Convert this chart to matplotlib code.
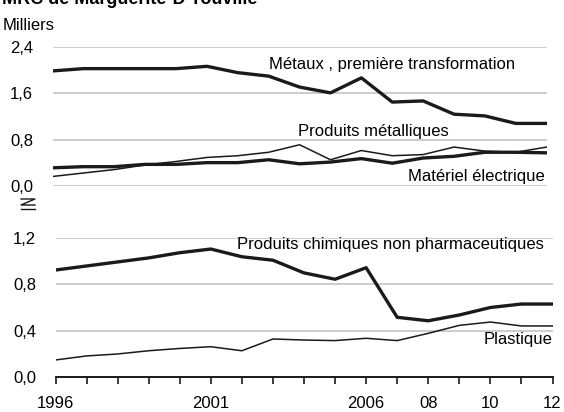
import matplotlib
matplotlib.use("Agg")
import matplotlib.pyplot as plt
from matplotlib.lines import Line2D

plt.rcParams["font.family"] = ["Liberation Sans Narrow", "Liberation Sans", "DejaVu Sans"]

years = list(range(1996, 2013))

# milliers d'emplois
metaux = [1.99, 2.03, 2.03, 2.03, 2.03, 2.07, 1.96, 1.90, 1.71, 1.61, 1.87,
          1.45, 1.47, 1.24, 1.21, 1.08, 1.08]
prod_metalliques = [0.16, 0.22, 0.28, 0.36, 0.42, 0.49, 0.52, 0.58, 0.71, 0.45,
                    0.61, 0.52, 0.54, 0.67, 0.60, 0.58, 0.67]
materiel_elec = [0.31, 0.33, 0.33, 0.37, 0.37, 0.40, 0.40, 0.45, 0.38, 0.41,
                 0.47, 0.39, 0.48, 0.51, 0.58, 0.58, 0.57]
chimiques = [0.925, 0.96, 0.995, 1.03, 1.075, 1.107, 1.04, 1.01, 0.90, 0.845,
             0.945, 0.515, 0.485, 0.535, 0.60, 0.63, 0.63]
plastique = [0.145, 0.18, 0.197, 0.225, 0.245, 0.26, 0.225, 0.327, 0.318, 0.313,
             0.333, 0.313, 0.376, 0.445, 0.474, 0.44, 0.44]

top_ticks = [0.0, 0.8, 1.6, 2.4]
bot_ticks = [0.0, 0.4, 0.8, 1.2]
xtick_labels = {1996: "1996", 2001: "2001", 2006: "2006", 2008: "08", 2010: "10", 2012: "12"}

W, H = 564, 412
fig = plt.figure(figsize=(W / 100, H / 100), dpi=100)


def px_box(x0, x1, ytop, ybot):
    return [x0 / W, 1 - ybot / H, (x1 - x0) / W, (ybot - ytop) / H]


ax1 = fig.add_axes(px_box(52.5, 546.7, 47, 186))
ax2 = fig.add_axes(px_box(55.5, 552.5, 238.3, 376.7))

grid_col = "#c8c8c8"
line_col = "#1a1a1a"
thick, thin = 2.4, 1.1

for ax, ticks in ((ax1, top_ticks), (ax2, bot_ticks)):
    ax.set_xlim(1996, 2012)
    ax.set_ylim(ticks[0], ticks[-1])
    ax.set_yticks(ticks)
    ax.set_yticklabels([f"{t:.1f}".replace(".", ",") for t in ticks])
    for t in ticks:
        ax.axhline(t, color=grid_col, lw=1.3, zorder=0)
    for s in ax.spines.values():
        s.set_visible(False)
    ax.tick_params(axis="y", length=0, pad=14, labelsize=12)
    ax.patch.set_alpha(0)

ax1.set_xticks([])
ax1.set_ylim(-0.005, 2.405)

ax1.plot(years, metaux, color=line_col, lw=thick, zorder=3)
ax1.plot(years, prod_metalliques, color=line_col, lw=thin, zorder=3)
ax1.plot(years, materiel_elec, color=line_col, lw=thick, zorder=3)

ax2.plot(years, chimiques, color=line_col, lw=thick, zorder=3)
ax2.plot(years, plastique, color=line_col, lw=thin, zorder=3)

ax2.spines["bottom"].set_visible(True)
ax2.spines["bottom"].set_color(line_col)
ax2.spines["bottom"].set_linewidth(1.4)
ax2.set_xticks(years)
ax2.set_xticklabels([xtick_labels.get(y, "") for y in years])
ax2.tick_params(axis="x", direction="out", length=5, width=1.2, color=line_col,
                pad=9, labelsize=12)

fs = 12
ax1.text(2003.0, 2.11, "Métaux , première transformation", fontsize=fs, va="center")
ax1.text(2003.95, 0.94, "Produits métalliques", fontsize=fs, va="center")
ax1.text(2011.94, 0.16, "Matériel électrique", fontsize=fs, va="center", ha="right")
ax2.text(2001.85, 1.142, "Produits chimiques non pharmaceutiques", fontsize=fs, va="center")
ax2.text(2012, 0.324, "Plastique", fontsize=fs, va="center", ha="right")

fig.text(2 / W, 1 - 4 / H, "MRC de Marguerite-D'Youville", fontsize=13,
         fontweight="bold", family=["Liberation Sans", "DejaVu Sans"], va="baseline")
fig.text(3 / W, 1 - 30 / H, "Milliers", fontsize=12, va="baseline")

# break mark between the two panels
for xs, ys in (([21, 35, 21, 35], [199, 199, 205, 205]), ([21, 35], [209, 209])):
    fig.add_artist(Line2D([x / W for x in xs], [1 - y / H for y in ys],
                          color=line_col, lw=1.0, transform=fig.transFigure))

fig.savefig("out.png", dpi=100)
